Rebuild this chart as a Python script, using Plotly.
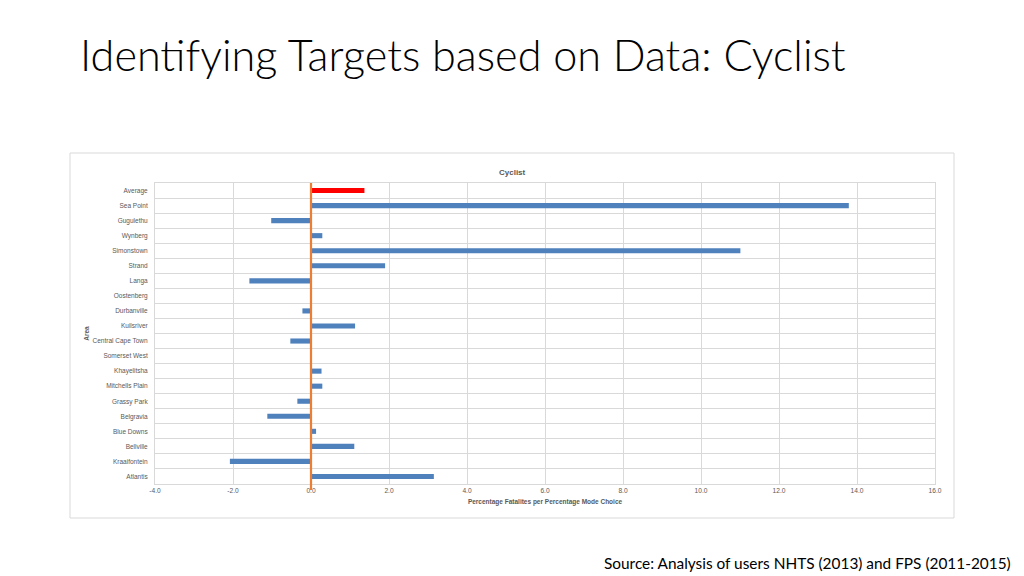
import plotly.graph_objects as go

# data
areas = ["Average", "Sea Point", "Gugulethu", "Wynberg", "Simonstown", "Strand", "Langa",
         "Oostenberg", "Durbanville", "Kuilsriver", "Central Cape Town", "Somerset West",
         "Khayelitsha", "Mitchells Plain", "Grassy Park", "Belgravia", "Blue Downs",
         "Bellville", "Kraaifontein", "Atlantis"]
values = [1.37, 13.79, -1.02, 0.29, 11.01, 1.90, -1.58,
          0.0, -0.22, 1.13, -0.53, 0.0,
          0.27, 0.29, -0.35, -1.12, 0.13,
          1.11, -2.08, 3.15]
bar_colors = ["#FF0000"] + ["#4F81BD"] * (len(areas) - 1)
x_ticks = [-4, -2, 0, 2, 4, 6, 8, 10, 12, 14, 16]
x_tick_labels = ["-4.0", "-2.0", "0.0", "2.0", "4.0", "6.0", "8.0", "10.0", "12.0", "14.0", "16.0"]

# the page body has an 8px margin, so the figure is sized to fill the rest
OFF = 8
W, H = 1024 - OFF, 576 - OFF
L, R, T, B = 155 - OFF, 935 - OFF, 183 - OFF, 484 - OFF  # plot area in figure pixels


def px_x(x):
    return (x - OFF - L) / (R - L)


def px_y(y):
    return (B - (y - OFF)) / (B - T)


fig = go.Figure()
fig.add_trace(go.Bar(
    x=values, y=areas, orientation="h",
    marker=dict(color=bar_colors, line=dict(width=0)),
    width=0.34, showlegend=False,
))

grid = "#D9D9D9"
fig.update_layout(
    width=W, height=H,
    margin=dict(l=L, r=W - R, t=T, b=H - B),
    paper_bgcolor="white", plot_bgcolor="white",
    font=dict(family="Liberation Sans, Arial", color="#595959", size=7),
    xaxis=dict(
        range=[-4, 16], tickvals=x_ticks, ticktext=x_tick_labels,
        showgrid=True, gridcolor=grid, gridwidth=1,
        zeroline=False, showline=True, linecolor=grid, mirror=True,
        ticks="", tickfont=dict(size=6.6, color="#595959"),
        title=dict(text="<b>Percentage Fatalites per Percentage Mode Choice</b>",
                   font=dict(size=6.5, color="#595959"), standoff=6),
    ),
    yaxis=dict(
        categoryorder="array", categoryarray=areas, autorange="reversed",
        tickson="boundaries", showgrid=True, gridcolor=grid, gridwidth=1,
        showline=True, linecolor=grid, mirror=True, ticks="",
        tickfont=dict(size=6.5, color="#595959"), ticklabelstandoff=5,
        title=dict(text="<b>Area</b>", font=dict(size=6.5, color="#595959"), standoff=2),
    ),
    bargap=0.66,
)

# zero reference line
fig.add_shape(type="line", xref="x", yref="paper", x0=0, x1=0, y0=px_y(490), y1=1.0,
              line=dict(color="#ED7D31", width=2.2))

# chart frame
fig.add_shape(type="rect", xref="paper", yref="paper",
              x0=px_x(70), x1=px_x(954), y0=px_y(518), y1=px_y(153),
              line=dict(color="#D9D9D9", width=1), fillcolor="rgba(0,0,0,0)", layer="below")

# chart title
fig.add_annotation(text="<b>Cyclist</b>", xref="paper", yref="paper",
                   x=px_x(512), y=px_y(166), showarrow=False,
                   font=dict(size=8, color="#595959"))

# slide title
fig.add_annotation(text="Identifying Targets based on Data: Cyclist", xref="paper", yref="paper",
                   x=px_x(78), y=px_y(54), xanchor="left", yanchor="middle", showarrow=False,
                   font=dict(family="Lato", size=43.2, color="#000000", weight=300))

# source
fig.add_annotation(text="Source: Analysis of users NHTS (2013) and FPS (2011-2015)",
                   xref="paper", yref="paper", x=px_x(1013), y=px_y(563),
                   xanchor="right", yanchor="middle", showarrow=False,
                   font=dict(family="Lato", size=15.4, color="#000000"))

fig.write_html("out.html")
